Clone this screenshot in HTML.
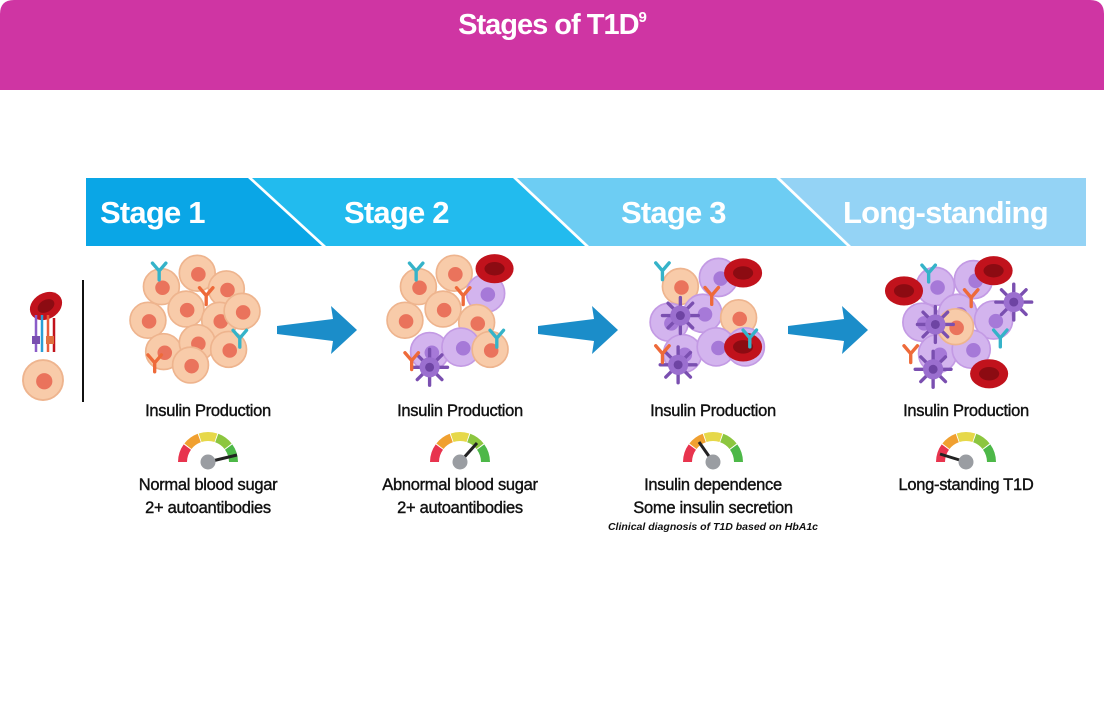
<!DOCTYPE html>
<html><head><meta charset="utf-8"><style>
body{margin:0;width:1104px;height:720px;background:#fff;overflow:hidden;font-family:"Liberation Sans",sans-serif}
</style></head><body>
<svg width="1104" height="720" viewBox="0 0 1104 720" xmlns="http://www.w3.org/2000/svg">
<defs>
<g id="b"><circle r="16" fill="#f8cba9" stroke="#eeb48e" stroke-width="1.5"/><circle r="6.5" cx="1" cy="1" fill="#ea735c"/></g>
<g id="p"><circle r="17" fill="#d3b4ee" stroke="#c39ae4" stroke-width="1.5"/><circle r="6.5" cx="2" cy="1" fill="#a679d8"/></g>
<g id="r"><ellipse rx="17" ry="13" fill="#c1121c"/><ellipse rx="9" ry="6" fill="#8c0b12"/></g>
<g id="m"><g stroke="#7a4fb0" stroke-width="3" stroke-linecap="round"><line x1="-16" y1="0" x2="16" y2="0"/><line x1="0" y1="-16" x2="0" y2="16"/><line x1="-11" y1="-11" x2="11" y2="11"/><line x1="-11" y1="11" x2="11" y2="-11"/></g><circle r="9" fill="#9b6fcf"/><circle r="4" fill="#6e44a3"/></g>
<g id="ab" stroke-width="3" stroke-linecap="round" fill="none"><path d="M0 8 L0 0 L-6 -7 M0 0 L6 -7"/></g>
<g id="ar"><polygon points="0,-4 56,-11 54,-24 80,0 54,24 56,11 0,4" fill="#1b8dc9"/></g>
<g id="g">
<path d="M-30 0 A30 30 0 0 1 -24.3 -17.6 L-17 -12.3 A21 21 0 0 0 -21 0Z" fill="#e8344e"/>
<path d="M-23.6 -18.5 A30 30 0 0 1 -10.3 -28.2 L-7.2 -19.7 A21 21 0 0 0 -16.5 -13Z" fill="#f0a030"/>
<path d="M-9.3 -28.5 A30 30 0 0 1 9.3 -28.5 L6.5 -20 A21 21 0 0 0 -6.5 -20Z" fill="#e6d84a"/>
<path d="M10.3 -28.2 A30 30 0 0 1 23.6 -18.5 L16.5 -13 A21 21 0 0 0 7.2 -19.7Z" fill="#8cc63f"/>
<path d="M24.3 -17.6 A30 30 0 0 1 30 0 L21 0 A21 21 0 0 0 17 -12.3Z" fill="#4db848"/>
</g>
</defs>
<path d="M0 14 Q0 0 14 0 L1090 0 Q1104 0 1104 14 L1104 90 L0 90Z" fill="#cf35a3"/>
<text x="552" y="34" text-anchor="middle" fill="#fff" font-size="29" font-weight="bold" letter-spacing="-1">Stages of T1D<tspan font-size="15" dy="-12">9</tspan></text>

<polygon points="86,178 248,178 322,246 86,246" fill="#0aa6e6"/>
<polygon points="252,178 513,178 585,246 326,246" fill="#22bbee"/>
<polygon points="517,178 776,178 847,246 589,246" fill="#6dcdf3"/>
<polygon points="780,178 1086,178 1086,246 851,246" fill="#94d3f5"/>
<g fill="#fff" font-size="31" font-weight="bold" letter-spacing="-0.8">
<text x="100" y="223">Stage 1</text><text x="344" y="223">Stage 2</text><text x="621" y="223">Stage 3</text><text x="843" y="223">Long-standing</text></g>

<use href="#r" x="46" y="306" transform="rotate(-30 46 306)"/>
<g stroke-width="2.5"><line x1="36" y1="315" x2="36" y2="352" stroke="#8a5cc8"/><line x1="42" y1="315" x2="42" y2="352" stroke="#2a9fd6"/><line x1="48" y1="315" x2="48" y2="352" stroke="#e85a3a"/><line x1="54" y1="318" x2="54" y2="352" stroke="#c1121c"/></g>
<rect x="32" y="336" width="8" height="8" fill="#7a4fb0"/><rect x="46" y="336" width="8" height="8" fill="#e07040"/>
<g transform="translate(43 380) scale(1.25)"><use href="#b"/></g>
<line x1="83" y1="280" x2="83" y2="402" stroke="#111" stroke-width="2"/>

<g transform="translate(195 318) scale(1.12)">
<use href="#b" x="-30" y="-28"/><use href="#b" x="2" y="-40"/><use href="#b" x="28" y="-26"/><use href="#b" x="-42" y="2"/><use href="#b" x="-8" y="-8"/><use href="#b" x="22" y="2"/><use href="#b" x="42" y="-6"/><use href="#b" x="-28" y="30"/><use href="#b" x="2" y="22"/><use href="#b" x="30" y="28"/><use href="#b" x="-4" y="42"/>
<use href="#ab" x="-32" y="-42" stroke="#35b3c9"/><use href="#ab" x="10" y="-20" stroke="#ee6a3a"/><use href="#ab" x="40" y="18" stroke="#35b3c9"/><use href="#ab" x="-36" y="40" stroke="#ee6a3a"/>
</g>
<use href="#ar" x="277" y="330"/>
<g transform="translate(452 318) scale(1.12)">
<use href="#b" x="-30" y="-28"/><use href="#b" x="2" y="-40"/><use href="#p" x="30" y="-22"/><use href="#b" x="-42" y="2"/><use href="#b" x="-8" y="-8"/><use href="#b" x="22" y="4"/><use href="#p" x="-20" y="30"/><use href="#p" x="8" y="26"/><use href="#b" x="34" y="28"/>
<use href="#r" x="38" y="-44"/><use href="#m" x="-20" y="44"/>
<use href="#ab" x="-32" y="-42" stroke="#35b3c9"/><use href="#ab" x="10" y="-20" stroke="#ee6a3a"/><use href="#ab" x="40" y="18" stroke="#35b3c9"/><use href="#ab" x="-36" y="38" stroke="#ee6a3a"/>
</g>
<use href="#ar" x="538" y="330"/>
<g transform="translate(705 320) scale(1.12)">
<use href="#b" x="-22" y="-30"/><use href="#p" x="12" y="-38"/><use href="#p" x="-32" y="2"/><use href="#p" x="-2" y="-6"/><use href="#b" x="30" y="-2"/><use href="#p" x="-20" y="30"/><use href="#p" x="10" y="24"/><use href="#p" x="36" y="24"/>
<use href="#r" x="34" y="-42"/><use href="#r" x="34" y="24"/><use href="#m" x="-22" y="-4"/><use href="#m" x="-24" y="40"/>
<use href="#ab" x="-38" y="-44" stroke="#35b3c9"/><use href="#ab" x="6" y="-22" stroke="#ee6a3a"/><use href="#ab" x="40" y="16" stroke="#35b3c9"/><use href="#ab" x="-38" y="30" stroke="#ee6a3a"/>
</g>
<use href="#ar" x="788" y="330"/>
<g transform="translate(960 320) scale(1.12)">
<use href="#p" x="-22" y="-30"/><use href="#p" x="12" y="-36"/><use href="#p" x="-34" y="2"/><use href="#p" x="-2" y="-6"/><use href="#p" x="30" y="0"/><use href="#p" x="-20" y="30"/><use href="#p" x="10" y="26"/><use href="#b" x="-4" y="6"/>
<use href="#r" x="-50" y="-26"/><use href="#r" x="30" y="-44"/><use href="#r" x="26" y="48"/><use href="#m" x="-22" y="4"/><use href="#m" x="-24" y="44"/><use href="#m" x="48" y="-16"/>
<use href="#ab" x="-28" y="-42" stroke="#35b3c9"/><use href="#ab" x="10" y="-20" stroke="#ee6a3a"/><use href="#ab" x="36" y="16" stroke="#35b3c9"/><use href="#ab" x="-44" y="30" stroke="#ee6a3a"/>
</g>

<g font-size="16.5" fill="#111" stroke="#111" stroke-width="0.4" text-anchor="middle" letter-spacing="-0.3">
<text x="208" y="416">Insulin Production</text><text x="460" y="416">Insulin Production</text><text x="713" y="416">Insulin Production</text><text x="966" y="416">Insulin Production</text>
<text x="208" y="490">Normal blood sugar</text><text x="208" y="513">2+ autoantibodies</text>
<text x="460" y="490">Abnormal blood sugar</text><text x="460" y="513">2+ autoantibodies</text>
<text x="713" y="490">Insulin dependence</text><text x="713" y="513">Some insulin secretion</text>
<text x="966" y="490">Long-standing T1D</text>
</g>
<text x="713" y="530" font-size="10.5" font-style="italic" font-weight="bold" text-anchor="middle" fill="#111">Clinical diagnosis of T1D based on HbA1c</text>

<g transform="translate(208 462)"><use href="#g"/><line x1="0" y1="0" x2="29" y2="-7" stroke="#222" stroke-width="3"/><circle r="7.5" fill="#9a9da2"/></g>
<g transform="translate(460 462)"><use href="#g"/><line x1="0" y1="0" x2="17" y2="-19" stroke="#222" stroke-width="3"/><circle r="7.5" fill="#9a9da2"/></g>
<g transform="translate(713 462)"><use href="#g"/><line x1="0" y1="0" x2="-14" y2="-20" stroke="#222" stroke-width="3"/><circle r="7.5" fill="#9a9da2"/></g>
<g transform="translate(966 462)"><use href="#g"/><line x1="0" y1="0" x2="-26" y2="-8" stroke="#222" stroke-width="3"/><circle r="7.5" fill="#9a9da2"/></g>
</svg>
</body></html>
